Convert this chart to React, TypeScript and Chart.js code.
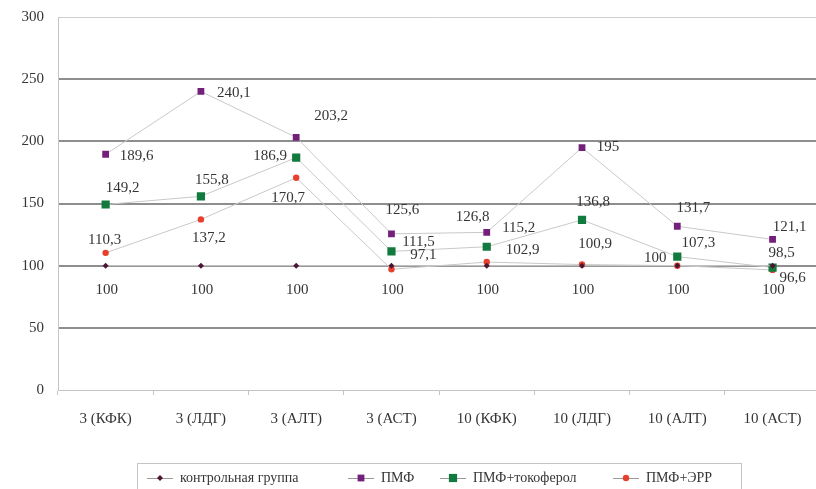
import React, { useEffect, useRef } from "react";
import { Chart, registerables } from "chart.js";

Chart.register(...registerables);

// Categories: day of observation and enzyme
const categories = [
  "3 (КФК)",
  "3 (ЛДГ)",
  "3 (АЛТ)",
  "3 (АСТ)",
  "10 (КФК)",
  "10 (ЛДГ)",
  "10 (АЛТ)",
  "10 (АСТ)",
];

// Series values, % of control
const controlValues = [100, 100, 100, 100, 100, 100, 100, 100];
const pmfValues = [189.6, 240.1, 203.2, 125.6, 126.8, 195, 131.7, 121.1];
const tocopherolValues = [149.2, 155.8, 186.9, 111.5, 115.2, 136.8, 107.3, 98.5];
const errValues = [110.3, 137.2, 170.7, 97.1, 102.9, 100.9, 100, 96.6];

// Y axis ticks
const yTickValues = [0, 50, 100, 150, 200, 250, 300];

// Series names
const seriesNames = ["контрольная группа", "ПМФ", "ПМФ+токоферол", "ПМФ+ЭРР"];

// Value-label placement relative to each point [dx, dy]
const controlLabelOffsets = [[1, 24], [1, 24], [1, 24], [1, 24], [1, 24], [1, 24], [1, 24], [1, 24]];
const pmfLabelOffsets = [[31, 2], [33, 2], [35, -21], [11, -24], [-14, -15], [26, 0], [16, -18], [17, -12]];
const tocopherolLabelOffsets = [[17, -16], [11, -16], [-26, -2], [27, -9], [32, -19], [11, -18], [21, -14], [9, -14]];
const errLabelOffsets = [[-1, -13], [8, 19], [-8, 20], [32, -14], [36, -12], [13, -20], [-22, -8], [20, 8]];

const COLORS = {
  control: "#4e1532",
  pmf: "#74207a",
  tocopherol: "#127a3e",
  err: "#e8402e",
  line: "#c9c9c9",
  text: "#353535",
};

const SERIF = "'Liberation Serif', 'Times New Roman', serif";

const fmt = (v: number) => String(v).replace(".", ",");

const valueLabelsPlugin = {
  id: "valueLabels",
  afterDatasetsDraw(chart: any) {
    const ctx = chart.ctx;
    ctx.save();
    ctx.font = `15px ${SERIF}`;
    ctx.fillStyle = COLORS.text;
    ctx.textAlign = "center";
    ctx.textBaseline = "middle";
    chart.data.datasets.forEach((ds: any, di: number) => {
      const meta = chart.getDatasetMeta(di);
      const offsets = ds.labelOffsets as number[][];
      meta.data.forEach((pt: any, i: number) => {
        const [dx, dy] = offsets[i];
        ctx.fillText(fmt(ds.data[i]), pt.x + dx, pt.y + dy);
      });
    });
    ctx.restore();
  },
};

const legendPlugin = {
  id: "boxLegend",
  afterDraw(chart: any) {
    const ctx = chart.ctx;
    const top = 463;
    const left = 137;
    const right = 741;
    ctx.save();
    ctx.strokeStyle = "#c4c4c4";
    ctx.lineWidth = 1;
    ctx.strokeRect(left + 0.5, top + 0.5, right - left, 40);
    const cy = top + 15;
    const starts = [147, 348, 440, 613];
    ctx.font = `14px ${SERIF}`;
    ctx.textBaseline = "middle";
    ctx.textAlign = "left";
    chart.data.datasets.forEach((ds: any, i: number) => {
      const x0 = starts[i];
      ctx.strokeStyle = "#9a9a9a";
      ctx.lineWidth = 1;
      ctx.beginPath();
      ctx.moveTo(x0, cy + 0.5);
      ctx.lineTo(x0 + 26, cy + 0.5);
      ctx.stroke();
      ctx.fillStyle = ds.pointBackgroundColor;
      const mx = x0 + 13;
      const r = ds.pointRadius;
      if (ds.pointStyle === "rect") {
        const s = Math.SQRT1_2 * r;
        ctx.fillRect(mx - s, cy - s, 2 * s, 2 * s);
      } else if (ds.pointStyle === "rectRot") {
        ctx.beginPath();
        ctx.moveTo(mx, cy - r);
        ctx.lineTo(mx + r, cy);
        ctx.lineTo(mx, cy + r);
        ctx.lineTo(mx - r, cy);
        ctx.closePath();
        ctx.fill();
      } else {
        ctx.beginPath();
        ctx.arc(mx, cy, r, 0, Math.PI * 2);
        ctx.fill();
      }
      ctx.fillStyle = COLORS.text;
      ctx.fillText(ds.label, x0 + 33, cy);
    });
    ctx.restore();
  },
};

export default function App() {
  const canvasRef = useRef<HTMLCanvasElement | null>(null);

  useEffect(() => {
    document.body.style.margin = "0";
    const canvas = canvasRef.current;
    if (!canvas) return;

    const mk = (
      label: string,
      data: number[],
      color: string,
      pointStyle: string,
      radius: number,
      labelOffsets: number[][]
    ) => ({
      label,
      data,
      borderColor: COLORS.line,
      borderWidth: 1,
      backgroundColor: color,
      pointBackgroundColor: color,
      pointBorderColor: color,
      pointBorderWidth: 0,
      pointStyle,
      pointRadius: radius,
      tension: 0,
      labelOffsets,
    });

    const chart = new Chart(canvas, {
      type: "line",
      data: {
        labels: categories,
        datasets: [
          mk(seriesNames[0], controlValues, COLORS.control, "rectRot", 3, controlLabelOffsets),
          mk(seriesNames[1], pmfValues, COLORS.pmf, "rect", 4.8, pmfLabelOffsets),
          mk(seriesNames[2], tocopherolValues, COLORS.tocopherol, "rect", 5.8, tocopherolLabelOffsets),
          mk(seriesNames[3], errValues, COLORS.err, "circle", 3.2, errLabelOffsets),
        ] as any,
      },
      options: {
        responsive: false,
        animation: false,
        layout: { padding: { top: 17, right: 0, left: 0, bottom: 0 } },
        plugins: {
          legend: { display: false },
          tooltip: { enabled: false },
        },
        scales: {
          x: {
            offset: true,
            grid: {
              offset: true,
              drawOnChartArea: false,
              drawTicks: true,
              tickLength: 5,
              color: "#c4c4c4",
            },
            border: { display: true, color: "#c4c4c4", width: 1 },
            ticks: {
              padding: 15,
              maxRotation: 0,
              autoSkip: false,
              color: COLORS.text,
              font: { family: SERIF, size: 15 },
            },
            afterFit(scale: any) {
              scale.height = 99;
              scale.paddingLeft = 0;
              scale.paddingRight = 0;
            },
          },
          y: {
            min: 0,
            max: 300,
            afterBuildTicks(scale: any) {
              scale.ticks = yTickValues.map((v) => ({ value: v }));
            },
            grid: {
              drawTicks: false,
              color: (c: any) =>
                c.tick && c.tick.value === 300 ? "#cfcfcf" : c.tick && c.tick.value === 0 ? "rgba(0,0,0,0)" : "#8e8e8e",
              lineWidth: (c: any) => (c.tick && c.tick.value === 300 ? 1 : 2),
            },
            border: { display: true, color: "#c4c4c4", width: 1 },
            ticks: {
              padding: 14,
              color: COLORS.text,
              font: { family: SERIF, size: 15 },
            },
            afterFit(scale: any) {
              scale.width = 58;
              scale.paddingTop = 0;
              scale.paddingBottom = 0;
            },
          },
        },
      },
      plugins: [valueLabelsPlugin, legendPlugin],
    } as any);

    return () => chart.destroy();
  }, []);

  return (
    <div style={{ width: 816, height: 489, overflow: "hidden", background: "#fff" }}>
      <canvas ref={canvasRef} width={826} height={489} style={{ display: "block" }} />
    </div>
  );
}
